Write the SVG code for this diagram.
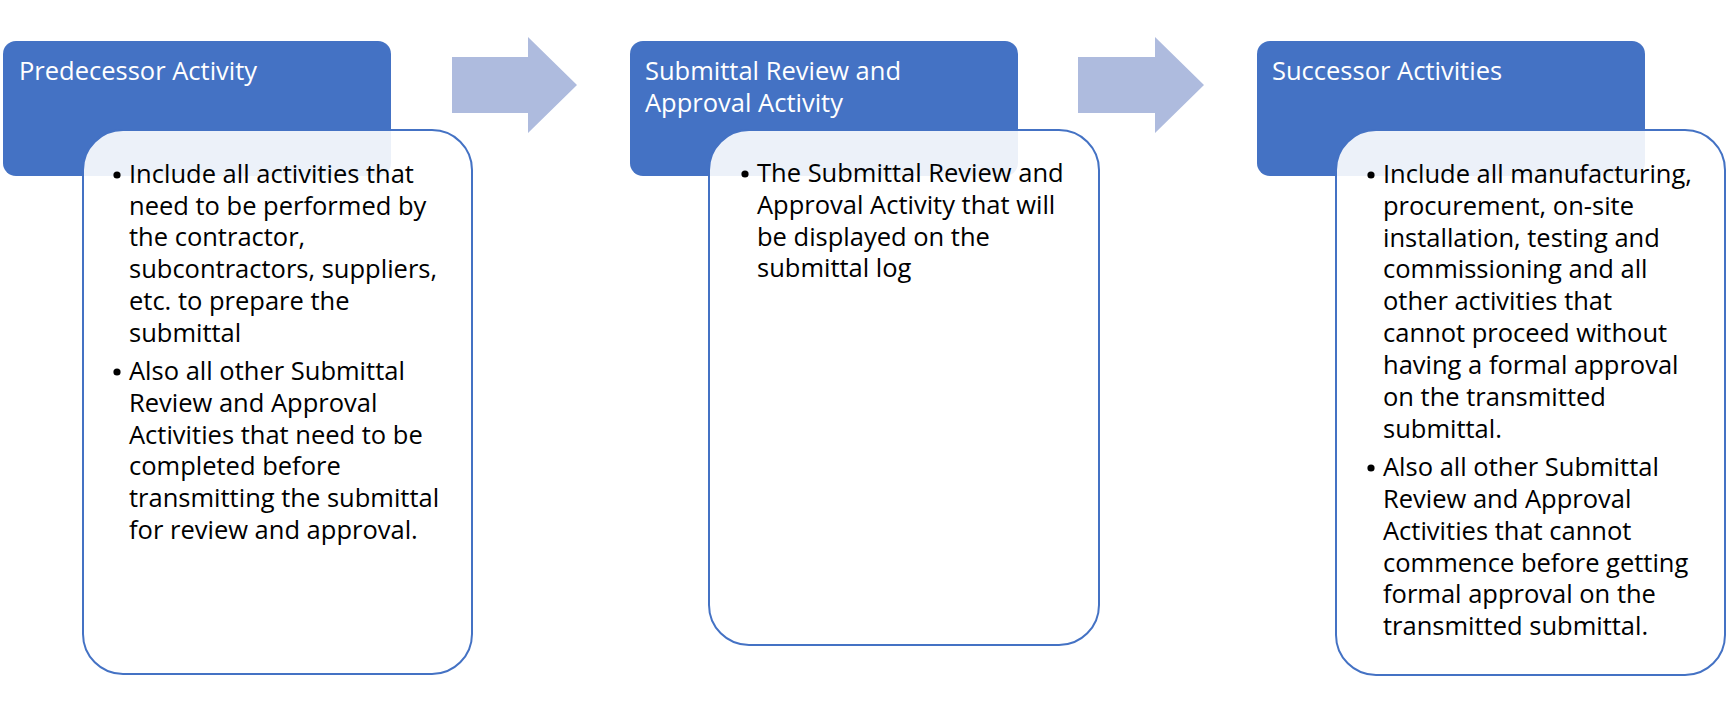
<svg xmlns="http://www.w3.org/2000/svg" width="1727" height="714" viewBox="0 0 1727 714">
<style>
.hdr{fill:#4472C4}
.card{fill:#FFFFFF;fill-opacity:0.9;stroke:#4472C4;stroke-width:2}
.arrow{fill:#AEBBDE}
.ht{font-family:"Open Sans","Liberation Sans",sans-serif;font-size:25.5px;fill:#FFFFFF}
.bt{font-family:"Open Sans","Liberation Sans",sans-serif;font-size:25.5px;fill:#000000}
.dot{fill:#000000}
</style>
<rect width="1727" height="714" fill="#FFFFFF"/>
<g id="connectors">
<path class="arrow" d="M452,57 H528 V37 L577,85 L528,133 V113 H452 Z"/>
<path class="arrow" d="M1078,57 H1155 V37 L1204,85 L1155,133 V113 H1078 Z"/>
</g>
<g id="node-predecessor">
<rect class="hdr" x="3" y="41" width="388" height="135" rx="13"/>
<text class="ht" x="19" y="80">Predecessor Activity</text>
<rect class="card" x="83" y="130" width="389" height="544" rx="40"/>
<circle class="dot" cx="117" cy="175" r="3.6"/>
<text class="bt">
<tspan x="129" y="183">Include all activities that</tspan>
<tspan x="129" y="215">need to be performed by</tspan>
<tspan x="129" y="246">the contractor,</tspan>
<tspan x="129" y="278">subcontractors, suppliers,</tspan>
<tspan x="129" y="310">etc. to prepare the</tspan>
<tspan x="129" y="342">submittal</tspan>
</text>
<circle class="dot" cx="117" cy="372" r="3.6"/>
<text class="bt">
<tspan x="129" y="380">Also all other Submittal</tspan>
<tspan x="129" y="412">Review and Approval</tspan>
<tspan x="129" y="444">Activities that need to be</tspan>
<tspan x="129" y="475">completed before</tspan>
<tspan x="129" y="507">transmitting the submittal</tspan>
<tspan x="129" y="539">for review and approval.</tspan>
</text>
</g>
<g id="node-submittal">
<rect class="hdr" x="630" y="41" width="388" height="135" rx="13"/>
<text class="ht"><tspan x="645" y="80">Submittal Review and</tspan><tspan x="645" y="112">Approval Activity</tspan></text>
<rect class="card" x="709" y="130" width="390" height="515" rx="40"/>
<circle class="dot" cx="745" cy="174" r="3.6"/>
<text class="bt">
<tspan x="757" y="182">The Submittal Review and</tspan>
<tspan x="757" y="214">Approval Activity that will</tspan>
<tspan x="757" y="246">be displayed on the</tspan>
<tspan x="757" y="277">submittal log</tspan>
</text>
</g>
<g id="node-successor">
<rect class="hdr" x="1257" y="41" width="388" height="135" rx="13"/>
<text class="ht" x="1272" y="80">Successor Activities</text>
<rect class="card" x="1336" y="130" width="389" height="545" rx="40"/>
<circle class="dot" cx="1371" cy="175" r="3.6"/>
<text class="bt">
<tspan x="1383" y="183">Include all manufacturing,</tspan>
<tspan x="1383" y="215">procurement, on-site</tspan>
<tspan x="1383" y="247">installation, testing and</tspan>
<tspan x="1383" y="278">commissioning and all</tspan>
<tspan x="1383" y="310">other activities that</tspan>
<tspan x="1383" y="342">cannot proceed without</tspan>
<tspan x="1383" y="374">having a formal approval</tspan>
<tspan x="1383" y="406">on the transmitted</tspan>
<tspan x="1383" y="438">submittal.</tspan>
</text>
<circle class="dot" cx="1371" cy="468" r="3.6"/>
<text class="bt">
<tspan x="1383" y="476">Also all other Submittal</tspan>
<tspan x="1383" y="508">Review and Approval</tspan>
<tspan x="1383" y="540">Activities that cannot</tspan>
<tspan x="1383" y="572">commence before getting</tspan>
<tspan x="1383" y="603">formal approval on the</tspan>
<tspan x="1383" y="635">transmitted submittal.</tspan>
</text>
</g>
</svg>
